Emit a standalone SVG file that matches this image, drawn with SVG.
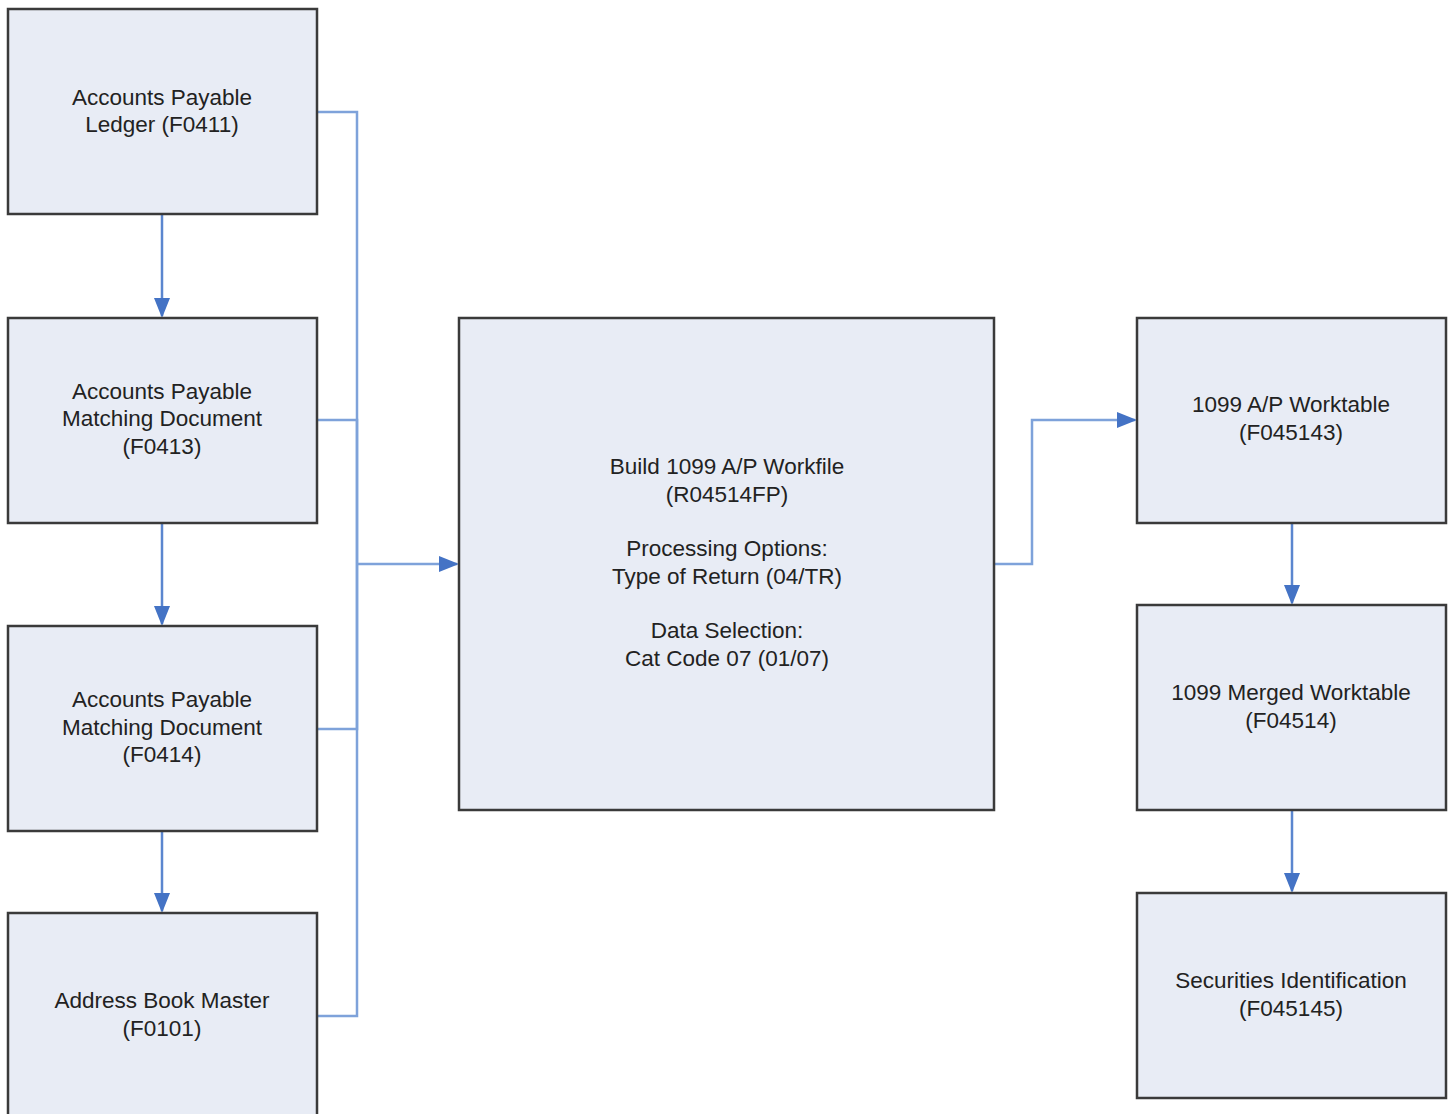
<svg xmlns="http://www.w3.org/2000/svg" width="1450" height="1114" viewBox="0 0 1450 1114">
<defs>
<style>
.box{fill:#e8ecf5;stroke:#3a3a3a;stroke-width:2.5}
.t{font-family:"Liberation Sans",Arial,sans-serif;font-size:22.5px;fill:#222;text-anchor:middle}
.c{fill:none;stroke:#7ea2da;stroke-width:2.5}
.a{fill:none;stroke:#5b86cf;stroke-width:2.5}
</style>
<marker id="ah2" markerWidth="20" markerHeight="20" refX="18" refY="10" orient="auto" markerUnits="userSpaceOnUse" viewBox="0 0 20 20">
<path d="M0,2 L20,10 L0,18 z" fill="#4473c5"/>
</marker>
</defs>
<rect width="1450" height="1114" fill="#ffffff"/>
<g id="connectors">
<path class="c" d="M317,112 H357 V564"/>
<path class="c" d="M317,420 H357 V564"/>
<path class="c" d="M317,729 H357 V564"/>
<path class="c" d="M317,1016 H357 V564"/>
<path class="c" d="M357,564 H457" marker-end="url(#ah2)"/>
<path class="a" d="M162,214 V316" marker-end="url(#ah2)"/>
<path class="a" d="M162,523 V624" marker-end="url(#ah2)"/>
<path class="a" d="M162,831 V911" marker-end="url(#ah2)"/>
<path class="c" d="M994,564 H1032 V420 H1135" marker-end="url(#ah2)"/>
<path class="a" d="M1292,523 V603" marker-end="url(#ah2)"/>
<path class="a" d="M1292,810 V891" marker-end="url(#ah2)"/>
</g>
<g id="n1"><rect class="box" x="8" y="9" width="309" height="205"/>
<text class="t" x="162" y="105">Accounts Payable</text><text class="t" x="162" y="132">Ledger (F0411)</text></g>
<g id="n2"><rect class="box" x="8" y="318" width="309" height="205"/>
<text class="t" x="162" y="399">Accounts Payable</text><text class="t" x="162" y="426">Matching Document</text><text class="t" x="162" y="454">(F0413)</text></g>
<g id="n3"><rect class="box" x="8" y="626" width="309" height="205"/>
<text class="t" x="162" y="707">Accounts Payable</text><text class="t" x="162" y="735">Matching Document</text><text class="t" x="162" y="762">(F0414)</text></g>
<g id="n4"><rect class="box" x="8" y="913" width="309" height="210"/>
<text class="t" x="162" y="1008">Address Book Master</text><text class="t" x="162" y="1036">(F0101)</text></g>
<g id="n5"><rect class="box" x="459" y="318" width="535" height="492"/>
<text class="t" x="727" y="474">Build 1099 A/P Workfile</text><text class="t" x="727" y="502">(R04514FP)</text>
<text class="t" x="727" y="556">Processing Options:</text><text class="t" x="727" y="584">Type of Return (04/TR)</text>
<text class="t" x="727" y="638">Data Selection:</text><text class="t" x="727" y="666">Cat Code 07 (01/07)</text></g>
<g id="n6"><rect class="box" x="1137" y="318" width="309" height="205"/>
<text class="t" x="1291" y="412">1099 A/P Worktable</text><text class="t" x="1291" y="440">(F045143)</text></g>
<g id="n7"><rect class="box" x="1137" y="605" width="309" height="205"/>
<text class="t" x="1291" y="700">1099 Merged Worktable</text><text class="t" x="1291" y="728">(F04514)</text></g>
<g id="n8"><rect class="box" x="1137" y="893" width="309" height="205"/>
<text class="t" x="1291" y="988">Securities Identification</text><text class="t" x="1291" y="1016">(F045145)</text></g>
</svg>
